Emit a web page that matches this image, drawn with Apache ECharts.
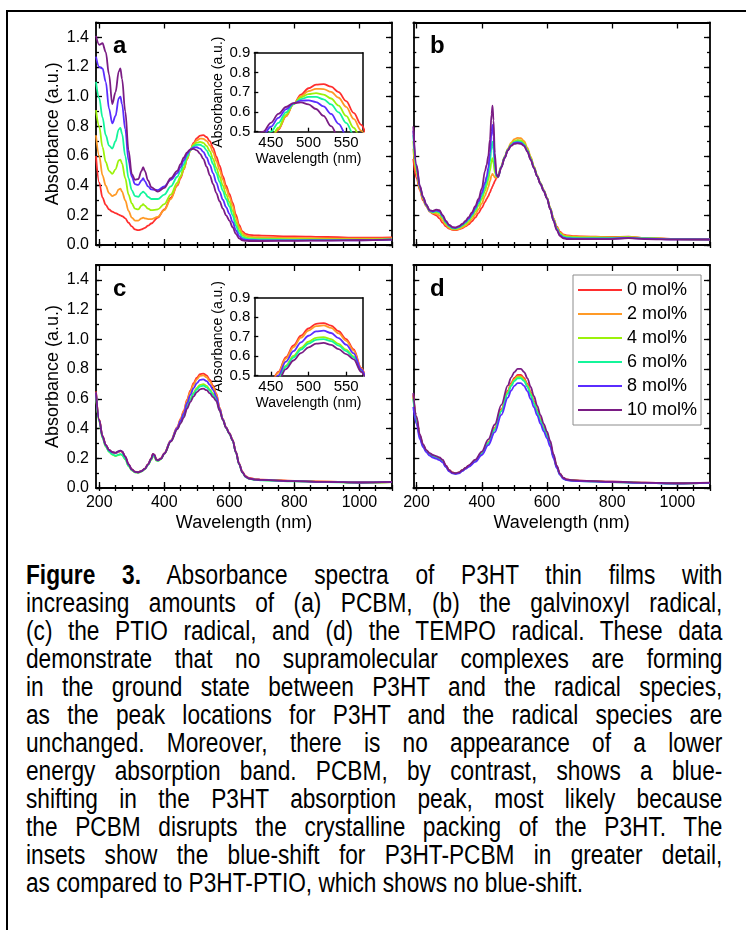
<!DOCTYPE html>
<html>
<head>
<meta charset="utf-8">
<title>Figure 3 - absorbance spectra</title>
<script src="https://cdn.jsdelivr.net/npm/echarts@6/dist/echarts.min.js"></script>
<style>
  html, body { margin: 0; padding: 0; background: #fff; }
  body { width: 746px; height: 930px; position: relative; overflow: hidden; }
  #frame { position: absolute; left: 6px; top: 10px; width: 780px; height: 960px; border: 2.5px solid #000; box-sizing: border-box; }
  #chart { position: absolute; left: 0; top: 0; width: 746px; height: 545px; }
  #caption { position: absolute; left: 26px; top: 561px; width: 696px; color: #000;
    font-family: "Liberation Sans", Arial, sans-serif; font-size: 27px; line-height: 28px; }
  #caption div { width: 829px; transform: scaleX(0.84); transform-origin: 0 0; text-align: justify; text-align-last: justify; white-space: normal; }
  #caption div.last { text-align-last: left; }
</style>
</head>
<body>
<div id="frame"></div>
<div id="chart"></div>
<div id="caption">
  <div><b>Figure 3.</b> Absorbance spectra of P3HT thin films with</div>
  <div>increasing amounts of (a) PCBM, (b) the galvinoxyl radical,</div>
  <div>(c) the PTIO radical, and (d) the TEMPO radical. These data</div>
  <div>demonstrate that no supramolecular complexes are forming</div>
  <div>in the ground state between P3HT and the radical species,</div>
  <div>as the peak locations for P3HT and the radical species are</div>
  <div>unchanged. Moreover, there is no appearance of a lower</div>
  <div>energy absorption band. PCBM, by contrast, shows a blue-</div>
  <div>shifting in the P3HT absorption peak, most likely because</div>
  <div>the PCBM disrupts the crystalline packing of the P3HT. The</div>
  <div>insets show the blue-shift for P3HT-PCBM in greater detail,</div>
  <div class="last">as compared to P3HT-PTIO, which shows no blue-shift.</div>
</div>
<script>
// legend names + colours (0 -> 10 mol%)
const seriesNames = ['0 mol%', '2 mol%', '4 mol%', '6 mol%', '8 mol%', '10 mol%'];
const seriesColors = ['#ff2e2e', '#ff9a26', '#9cf20a', '#14f59a', '#5a2cff', '#7a1c84'];

// tick values
const xMajorTicks = [200, 400, 600, 800, 1000];
const xMinorTicks = [200, 250, 300, 350, 400, 450, 500, 550, 600, 650, 700, 750, 800, 850, 900, 950, 1000, 1050, 1100];
const yMajorTicks = [0, 0.2, 0.4, 0.6, 0.8, 1.0, 1.2, 1.4];
const yMinorTicks = [0, 0.1, 0.2, 0.3, 0.4, 0.5, 0.6, 0.7, 0.8, 0.9, 1.0, 1.1, 1.2, 1.3, 1.4, 1.5];
const insetXTicks = [450, 500, 550];
const insetYTicks = [0.5, 0.6, 0.7, 0.8, 0.9];

// (a) PCBM
const wlA = [190, 200, 210, 220, 230, 240, 250, 260, 265, 270, 280, 290, 300, 310, 320, 330, 335, 340, 350, 360,
  380, 400, 420, 440, 450, 460, 470, 480, 490, 500, 510, 520, 530, 540, 550, 560, 570, 580, 590, 600,
  610, 620, 630, 640, 650, 660, 680, 700, 800, 900, 1000, 1100];
const a0 = [0.60, 0.42, 0.32, 0.27, 0.24, 0.225, 0.215, 0.205, 0.20, 0.195, 0.18, 0.15, 0.125, 0.105, 0.10, 0.105, 0.11, 0.115, 0.13, 0.145,
  0.185, 0.24, 0.32, 0.40, 0.45, 0.51, 0.578, 0.640, 0.688, 0.720, 0.738, 0.741, 0.728, 0.700, 0.655, 0.595, 0.535, 0.465, 0.40, 0.345,
  0.285, 0.205, 0.135, 0.092, 0.075, 0.068, 0.065, 0.063, 0.058, 0.054, 0.05, 0.052];
const a2 = [0.74, 0.60, 0.47, 0.40, 0.35, 0.33, 0.34, 0.375, 0.38, 0.36, 0.30, 0.23, 0.185, 0.165, 0.165, 0.18, 0.185, 0.18, 0.175, 0.175,
  0.19, 0.235, 0.31, 0.405, 0.458, 0.513, 0.578, 0.638, 0.680, 0.705, 0.717, 0.716, 0.702, 0.672, 0.626, 0.565, 0.505, 0.44, 0.38, 0.325,
  0.265, 0.185, 0.12, 0.08, 0.064, 0.057, 0.053, 0.052, 0.048, 0.045, 0.042, 0.045];
const a4 = [0.91, 0.80, 0.66, 0.56, 0.50, 0.48, 0.51, 0.57, 0.575, 0.55, 0.45, 0.34, 0.28, 0.245, 0.24, 0.265, 0.275, 0.265, 0.245, 0.235,
  0.24, 0.275, 0.34, 0.42, 0.465, 0.52, 0.585, 0.64, 0.674, 0.690, 0.695, 0.688, 0.668, 0.632, 0.58, 0.52, 0.46, 0.40, 0.34, 0.29,
  0.23, 0.155, 0.10, 0.066, 0.053, 0.047, 0.044, 0.043, 0.04, 0.038, 0.037, 0.04];
const a6 = [1.10, 0.99, 0.86, 0.74, 0.67, 0.65, 0.70, 0.78, 0.79, 0.75, 0.60, 0.45, 0.37, 0.33, 0.325, 0.35, 0.36, 0.35, 0.325, 0.31,
  0.31, 0.34, 0.395, 0.46, 0.50, 0.545, 0.598, 0.64, 0.665, 0.676, 0.676, 0.664, 0.638, 0.598, 0.545, 0.485, 0.425, 0.365, 0.31, 0.26,
  0.20, 0.13, 0.08, 0.053, 0.044, 0.04, 0.038, 0.037, 0.035, 0.034, 0.034, 0.038];
const a8 = [1.27, 1.20, 1.19, 1.10, 0.92, 0.82, 0.87, 0.99, 1.0, 0.95, 0.78, 0.57, 0.46, 0.41, 0.405, 0.435, 0.45, 0.43, 0.395, 0.375,
  0.37, 0.395, 0.44, 0.485, 0.525, 0.57, 0.613, 0.643, 0.657, 0.659, 0.65, 0.628, 0.59, 0.54, 0.483, 0.42, 0.36, 0.305, 0.255, 0.21,
  0.155, 0.10, 0.06, 0.041, 0.035, 0.033, 0.032, 0.031, 0.031, 0.031, 0.032, 0.036];
const a10 = [1.41, 1.35, 1.36, 1.30, 1.15, 0.95, 1.03, 1.17, 1.19, 1.12, 0.90, 0.64, 0.48, 0.44, 0.445, 0.50, 0.525, 0.50, 0.435, 0.39,
  0.36, 0.385, 0.45, 0.50, 0.545, 0.59, 0.625, 0.645, 0.648, 0.638, 0.615, 0.58, 0.528, 0.47, 0.41, 0.35, 0.295, 0.245, 0.20, 0.165,
  0.12, 0.075, 0.045, 0.032, 0.028, 0.027, 0.027, 0.027, 0.028, 0.03, 0.032, 0.036];

// (b) galvinoxyl
const wlB = [190, 200, 210, 220, 230, 240, 250, 260, 270, 280, 290, 300, 310, 320, 330, 340, 350, 360, 370, 380,
  390, 400, 410, 415, 420, 425, 430, 433, 436, 440, 445, 450, 460, 470, 480, 490, 500, 510, 520, 530,
  540, 550, 560, 570, 580, 590, 600, 610, 620, 630, 640, 650, 660, 680, 700, 800, 850, 900, 1000, 1100];
const b0 = [0.58, 0.45, 0.37, 0.30, 0.26, 0.225, 0.21, 0.20, 0.18, 0.15, 0.125, 0.11, 0.102, 0.10, 0.105, 0.113, 0.125, 0.14, 0.16, 0.185,
  0.215, 0.25, 0.29, 0.31, 0.33, 0.355, 0.38, 0.395, 0.41, 0.43, 0.45, 0.47, 0.53, 0.59, 0.64, 0.675, 0.695, 0.705, 0.703, 0.685,
  0.645, 0.585, 0.525, 0.465, 0.415, 0.37, 0.32, 0.25, 0.18, 0.125, 0.09, 0.072, 0.065, 0.06, 0.058, 0.054, 0.056, 0.048, 0.04, 0.038];
const b2 = [0.65, 0.48, 0.38, 0.31, 0.265, 0.23, 0.215, 0.21, 0.20, 0.165, 0.135, 0.115, 0.105, 0.103, 0.108, 0.118, 0.13, 0.15, 0.175, 0.205,
  0.24, 0.28, 0.33, 0.36, 0.39, 0.43, 0.47, 0.48, 0.47, 0.455, 0.455, 0.465, 0.53, 0.595, 0.65, 0.69, 0.713, 0.722, 0.72, 0.70,
  0.655, 0.595, 0.53, 0.47, 0.418, 0.37, 0.32, 0.25, 0.178, 0.12, 0.085, 0.068, 0.062, 0.058, 0.056, 0.052, 0.055, 0.047, 0.04, 0.038];
const b4 = [0.70, 0.50, 0.385, 0.315, 0.265, 0.228, 0.218, 0.222, 0.215, 0.18, 0.145, 0.122, 0.11, 0.108, 0.115, 0.127, 0.142, 0.163, 0.19, 0.225,
  0.265, 0.31, 0.365, 0.40, 0.44, 0.50, 0.565, 0.585, 0.55, 0.49, 0.46, 0.465, 0.53, 0.593, 0.645, 0.68, 0.70, 0.707, 0.705, 0.686,
  0.645, 0.588, 0.527, 0.468, 0.416, 0.368, 0.318, 0.248, 0.175, 0.115, 0.078, 0.062, 0.056, 0.053, 0.052, 0.05, 0.053, 0.046, 0.04, 0.038];
const b6 = [0.74, 0.52, 0.39, 0.32, 0.268, 0.23, 0.222, 0.228, 0.222, 0.19, 0.152, 0.127, 0.114, 0.112, 0.12, 0.133, 0.15, 0.172, 0.20, 0.238,
  0.28, 0.33, 0.39, 0.43, 0.48, 0.56, 0.665, 0.697, 0.64, 0.53, 0.465, 0.462, 0.528, 0.59, 0.642, 0.675, 0.693, 0.698, 0.695, 0.676,
  0.636, 0.58, 0.522, 0.465, 0.413, 0.366, 0.316, 0.245, 0.17, 0.11, 0.072, 0.056, 0.05, 0.048, 0.047, 0.046, 0.05, 0.044, 0.039, 0.038];
const b8 = [0.77, 0.53, 0.395, 0.322, 0.27, 0.232, 0.226, 0.233, 0.228, 0.196, 0.158, 0.132, 0.118, 0.116, 0.124, 0.138, 0.156, 0.18, 0.21, 0.25,
  0.295, 0.35, 0.42, 0.46, 0.52, 0.62, 0.76, 0.81, 0.73, 0.57, 0.47, 0.46, 0.525, 0.588, 0.64, 0.672, 0.688, 0.692, 0.689, 0.672,
  0.632, 0.577, 0.52, 0.463, 0.412, 0.365, 0.315, 0.243, 0.166, 0.105, 0.066, 0.05, 0.045, 0.043, 0.043, 0.043, 0.048, 0.042, 0.038, 0.037];
const b10 = [0.80, 0.54, 0.40, 0.325, 0.272, 0.235, 0.23, 0.238, 0.235, 0.202, 0.163, 0.136, 0.121, 0.118, 0.127, 0.142, 0.162, 0.188, 0.22, 0.262,
  0.31, 0.38, 0.50, 0.54, 0.60, 0.71, 0.88, 0.94, 0.84, 0.62, 0.48, 0.458, 0.522, 0.585, 0.637, 0.668, 0.682, 0.685, 0.682, 0.666,
  0.628, 0.574, 0.518, 0.462, 0.41, 0.363, 0.313, 0.24, 0.162, 0.10, 0.06, 0.045, 0.04, 0.039, 0.039, 0.04, 0.046, 0.04, 0.037, 0.037];

// (c) PTIO
const wlC = [190, 200, 210, 220, 230, 240, 250, 260, 265, 270, 280, 290, 300, 310, 320, 330, 340, 350, 360, 365,
  370, 375, 380, 390, 400, 420, 440, 450, 460, 470, 480, 490, 500, 510, 520, 530, 540, 550, 560, 570,
  580, 590, 600, 610, 620, 630, 640, 650, 660, 680, 700, 800, 900, 1000, 1100];
const c0 = [0.65, 0.46, 0.35, 0.29, 0.255, 0.24, 0.235, 0.245, 0.25, 0.245, 0.21, 0.16, 0.125, 0.11, 0.107, 0.115, 0.13, 0.16, 0.2, 0.23,
  0.222, 0.193, 0.188, 0.2, 0.235, 0.32, 0.41, 0.465, 0.52, 0.595, 0.655, 0.705, 0.742, 0.766, 0.77, 0.757, 0.728, 0.688, 0.635, 0.54,
  0.465, 0.41, 0.37, 0.325, 0.245, 0.165, 0.11, 0.08, 0.068, 0.06, 0.056, 0.048, 0.043, 0.038, 0.04];
const c2 = [0.645, 0.458, 0.348, 0.288, 0.254, 0.238, 0.233, 0.243, 0.248, 0.243, 0.208, 0.158, 0.124, 0.109, 0.106, 0.114, 0.129, 0.158, 0.198, 0.228,
  0.221, 0.192, 0.187, 0.198, 0.233, 0.318, 0.408, 0.461, 0.515, 0.588, 0.646, 0.695, 0.731, 0.754, 0.758, 0.745, 0.717, 0.679, 0.629, 0.538,
  0.463, 0.408, 0.368, 0.323, 0.243, 0.163, 0.108, 0.078, 0.066, 0.058, 0.055, 0.047, 0.042, 0.037, 0.04];
const c4 = [0.62, 0.445, 0.338, 0.278, 0.243, 0.225, 0.215, 0.222, 0.226, 0.222, 0.192, 0.148, 0.118, 0.105, 0.103, 0.111, 0.126, 0.155, 0.19, 0.215,
  0.21, 0.185, 0.182, 0.195, 0.23, 0.313, 0.399, 0.443, 0.488, 0.552, 0.601, 0.642, 0.674, 0.694, 0.698, 0.687, 0.663, 0.634, 0.599, 0.526,
  0.46, 0.405, 0.365, 0.32, 0.24, 0.16, 0.105, 0.075, 0.063, 0.056, 0.053, 0.046, 0.041, 0.036, 0.039];
const c6 = [0.63, 0.45, 0.34, 0.28, 0.245, 0.226, 0.217, 0.224, 0.228, 0.224, 0.194, 0.15, 0.12, 0.106, 0.104, 0.112, 0.127, 0.156, 0.192, 0.218,
  0.212, 0.187, 0.183, 0.196, 0.231, 0.314, 0.398, 0.44, 0.483, 0.546, 0.593, 0.634, 0.664, 0.684, 0.688, 0.677, 0.654, 0.626, 0.594, 0.524,
  0.459, 0.404, 0.364, 0.319, 0.239, 0.159, 0.104, 0.074, 0.062, 0.055, 0.052, 0.045, 0.04, 0.036, 0.039];
const c8 = [0.64, 0.455, 0.347, 0.288, 0.254, 0.24, 0.236, 0.246, 0.251, 0.246, 0.21, 0.159, 0.124, 0.108, 0.105, 0.113, 0.128, 0.158, 0.198, 0.228,
  0.221, 0.191, 0.186, 0.197, 0.232, 0.316, 0.404, 0.453, 0.502, 0.572, 0.626, 0.671, 0.705, 0.727, 0.731, 0.719, 0.693, 0.659, 0.615, 0.532,
  0.462, 0.407, 0.367, 0.322, 0.242, 0.162, 0.107, 0.077, 0.065, 0.057, 0.054, 0.046, 0.041, 0.037, 0.041];
const c10 = [0.645, 0.458, 0.349, 0.29, 0.256, 0.242, 0.238, 0.248, 0.252, 0.247, 0.211, 0.16, 0.125, 0.109, 0.106, 0.114, 0.129, 0.159, 0.199, 0.229,
  0.222, 0.192, 0.187, 0.197, 0.231, 0.312, 0.395, 0.434, 0.474, 0.534, 0.578, 0.616, 0.645, 0.664, 0.668, 0.658, 0.636, 0.611, 0.584, 0.52,
  0.457, 0.405, 0.366, 0.321, 0.241, 0.161, 0.106, 0.076, 0.064, 0.057, 0.054, 0.046, 0.041, 0.037, 0.041];

// (d) TEMPO
const wlD = [190, 200, 210, 220, 230, 240, 250, 260, 270, 280, 290, 300, 310, 320, 330, 340, 350, 360, 380, 400,
  420, 440, 460, 480, 490, 500, 510, 520, 530, 540, 550, 560, 570, 580, 590, 600, 610, 620,
  630, 640, 650, 660, 680, 700, 800, 900, 1000, 1100];
const d0 = [0.63, 0.47, 0.35, 0.29, 0.25, 0.23, 0.218, 0.21, 0.20, 0.185, 0.15, 0.12, 0.105, 0.10, 0.105, 0.12, 0.135, 0.15, 0.185, 0.235,
  0.31, 0.405, 0.53, 0.655, 0.705, 0.74, 0.76, 0.76, 0.74, 0.70, 0.645, 0.585, 0.525, 0.465, 0.41, 0.36, 0.30, 0.215,
  0.145, 0.095, 0.068, 0.058, 0.052, 0.05, 0.042, 0.036, 0.032, 0.034];
const d2 = [0.62, 0.465, 0.35, 0.288, 0.25, 0.228, 0.216, 0.208, 0.198, 0.182, 0.148, 0.118, 0.104, 0.10, 0.104, 0.118, 0.133, 0.148, 0.183, 0.232,
  0.306, 0.40, 0.524, 0.647, 0.697, 0.731, 0.751, 0.751, 0.731, 0.692, 0.637, 0.578, 0.519, 0.459, 0.405, 0.356, 0.296, 0.212,
  0.142, 0.093, 0.066, 0.056, 0.05, 0.048, 0.041, 0.035, 0.031, 0.034];
const d4 = [0.61, 0.46, 0.345, 0.285, 0.248, 0.226, 0.213, 0.205, 0.195, 0.178, 0.145, 0.116, 0.102, 0.098, 0.103, 0.117, 0.132, 0.147, 0.182, 0.231,
  0.304, 0.397, 0.519, 0.642, 0.691, 0.725, 0.745, 0.745, 0.725, 0.686, 0.632, 0.573, 0.515, 0.456, 0.402, 0.353, 0.294, 0.211,
  0.141, 0.092, 0.065, 0.055, 0.05, 0.048, 0.04, 0.035, 0.031, 0.034];
const d6 = [0.60, 0.455, 0.342, 0.283, 0.246, 0.224, 0.211, 0.203, 0.193, 0.176, 0.143, 0.115, 0.101, 0.097, 0.102, 0.116, 0.131, 0.146, 0.18, 0.229,
  0.301, 0.393, 0.515, 0.636, 0.685, 0.719, 0.738, 0.738, 0.719, 0.68, 0.626, 0.568, 0.51, 0.452, 0.398, 0.35, 0.291, 0.209,
  0.14, 0.09, 0.064, 0.054, 0.049, 0.047, 0.04, 0.034, 0.03, 0.034];
const d8 = [0.545, 0.43, 0.33, 0.275, 0.24, 0.218, 0.205, 0.197, 0.188, 0.172, 0.14, 0.112, 0.098, 0.094, 0.099, 0.113, 0.128, 0.143, 0.176, 0.222,
  0.288, 0.376, 0.492, 0.608, 0.655, 0.687, 0.706, 0.706, 0.687, 0.65, 0.599, 0.543, 0.488, 0.432, 0.381, 0.334, 0.279, 0.20,
  0.135, 0.088, 0.062, 0.053, 0.048, 0.046, 0.039, 0.034, 0.03, 0.035];
const d10 = [0.64, 0.48, 0.36, 0.295, 0.255, 0.235, 0.222, 0.215, 0.205, 0.19, 0.152, 0.12, 0.104, 0.10, 0.105, 0.12, 0.135, 0.152, 0.19, 0.245,
  0.327, 0.427, 0.559, 0.69, 0.743, 0.78, 0.801, 0.801, 0.78, 0.738, 0.68, 0.617, 0.553, 0.49, 0.432, 0.379, 0.316, 0.227,
  0.15, 0.097, 0.069, 0.058, 0.052, 0.05, 0.042, 0.036, 0.032, 0.036];

const FONT = '"Liberation Sans", Arial, sans-serif';
const chart = echarts.init(document.getElementById('chart'), null, { renderer: 'canvas' });

const grids = [];
const xAxes = [];
const yAxes = [];
const series = [];

function tickStyle() {
  return { color: '#000', width: 1.3 };
}

// one framed plot: ticks inside on all four sides, major+minor done as two stacked axes
function addGrid(rect, o) {
  const g = grids.length;
  grids.push({ left: rect[0], top: rect[1], width: rect[2], height: rect[3] });
  const xi = xAxes.length;
  ['bottom', 'top'].forEach(function (pos) {
    const main = pos === 'bottom';
    xAxes.push({
      gridIndex: g, type: 'value', position: pos, min: o.xMin, max: o.xMax,
      name: main && o.xName ? o.xName : '',
      nameLocation: 'middle', nameGap: o.xNameGap,
      nameTextStyle: { fontSize: o.nameSize, color: '#000', fontFamily: FONT },
      axisLine: { show: true, onZero: false, lineStyle: { color: '#000', width: o.lineW } },
      axisTick: { show: o.topTicks || main, inside: true, length: o.major, customValues: o.xMajor, lineStyle: tickStyle() },
      axisLabel: { show: main && o.xLabels, customValues: o.xMajor, margin: o.xMargin, fontSize: o.labelSize, color: '#000', fontFamily: FONT,
        formatter: function (v) { return String(v); } },
      splitLine: { show: false }
    });
    if (o.xMinor && (o.topTicks || main)) {
      xAxes.push({
        gridIndex: g, type: 'value', position: pos, min: o.xMin, max: o.xMax,
        axisLine: { show: false },
        axisTick: { show: true, inside: true, length: o.minor, customValues: o.xMinor, lineStyle: tickStyle() },
        axisLabel: { show: false }, splitLine: { show: false }
      });
    }
  });
  const yi = yAxes.length;
  ['left', 'right'].forEach(function (pos) {
    const main = pos === 'left';
    yAxes.push({
      gridIndex: g, type: 'value', position: pos, min: o.yMin, max: o.yMax,
      name: main && o.yName ? o.yName : '',
      nameLocation: 'middle', nameGap: o.yNameGap,
      nameTextStyle: { fontSize: o.nameSize, color: '#000', fontFamily: FONT },
      axisLine: { show: true, onZero: false, lineStyle: { color: '#000', width: o.lineW } },
      axisTick: { show: o.topTicks || main, inside: true, length: o.major, customValues: o.yMajor, lineStyle: tickStyle() },
      axisLabel: { show: main && o.yLabels, customValues: o.yMajor, margin: o.yMargin, fontSize: o.labelSize, color: '#000', fontFamily: FONT,
        formatter: function (v) { return v.toFixed(1); } },
      splitLine: { show: false }
    });
    if (o.yMinor && (o.topTicks || main)) {
      yAxes.push({
        gridIndex: g, type: 'value', position: pos, min: o.yMin, max: o.yMax,
        axisLine: { show: false },
        axisTick: { show: true, inside: true, length: o.minor, customValues: o.yMinor, lineStyle: tickStyle() },
        axisLabel: { show: false }, splitLine: { show: false }
      });
    }
  });
  return { x: xi, y: yi };
}

function mainOpts(showX, showY) {
  return {
    xMin: 190, xMax: 1100, yMin: 0, yMax: 1.5,
    xMajor: xMajorTicks, xMinor: xMinorTicks, yMajor: yMajorTicks, yMinor: yMinorTicks,
    major: 6, minor: 3, topTicks: true, lineW: 1.8,
    xLabels: showX, yLabels: showY,
    xName: showX ? 'Wavelength (nm)' : '', yName: showY ? 'Absorbance (a.u.)' : '',
    xNameGap: 26, yNameGap: 34, xMargin: 7, yMargin: 7,
    labelSize: 16, nameSize: 18
  };
}

function insetOpts() {
  return {
    xMin: 428, xMax: 572, yMin: 0.5, yMax: 0.9,
    xMajor: insetXTicks, yMajor: insetYTicks,
    major: 4, minor: 2, topTicks: false, lineW: 1.5,
    xLabels: true, yLabels: true,
    xName: 'Wavelength (nm)', yName: 'Absorbance (a.u.)',
    xNameGap: 20, yNameGap: 25, xMargin: 4, yMargin: 4,
    labelSize: 15, nameSize: 14
  };
}

const gA = addGrid([96, 22.5, 296, 222.5], mainOpts(false, true));
const gB = addGrid([413.3, 22.5, 296.7, 222.5], mainOpts(false, false));
const gC = addGrid([96, 265, 296, 223], mainOpts(true, true));
const gD = addGrid([413.3, 265, 296.7, 223], mainOpts(true, false));
const gAi = addGrid([254.3, 52.7, 108.4, 79], insetOpts());
const gCi = addGrid([254.3, 297.7, 108.4, 78], insetOpts());

function addSeries(axes, wl, sets) {
  sets.forEach(function (vals, i) {
    series.push({
      name: seriesNames[i], type: 'line',
      xAxisIndex: axes.x, yAxisIndex: axes.y,
      data: wl.map(function (w, k) { return [w, vals[k]]; }),
      symbol: 'none', smooth: 0.35, smoothMonotone: 'x', clip: true,
      lineStyle: { color: seriesColors[i], width: 1.8 },
      itemStyle: { color: seriesColors[i] }
    });
  });
}

addSeries(gA, wlA, [a0, a2, a4, a6, a8, a10]);
addSeries(gB, wlB, [b0, b2, b4, b6, b8, b10]);
addSeries(gC, wlC, [c0, c2, c4, c6, c8, c10]);
addSeries(gD, wlD, [d0, d2, d4, d6, d8, d10]);
addSeries(gAi, wlA, [a0, a2, a4, a6, a8, a10]);
addSeries(gCi, wlC, [c0, c2, c4, c6, c8, c10]);

const panelLetters = [['a', 113, 34], ['b', 430, 34], ['c', 113, 277], ['d', 430, 277]];

chart.setOption({
  animation: false,
  backgroundColor: 'transparent',
  grid: grids,
  xAxis: xAxes,
  yAxis: yAxes,
  series: series,
  legend: {
    data: seriesNames,
    orient: 'vertical', left: 573, top: 275,
    backgroundColor: '#fff', borderColor: '#8c8c8c', borderWidth: 1,
    padding: [6, 4, 6, 4], itemWidth: 44, itemHeight: 14, itemGap: 6, itemTextGap: 6,
    itemStyle: { opacity: 0 },
    lineStyle: { width: 2 },
    textStyle: { fontSize: 18, color: '#000', fontFamily: FONT },
    selectedMode: false
  },
  graphic: panelLetters.map(function (p) {
    return { type: 'text', left: p[1], top: p[2], style: { text: p[0], font: 'bold 24px "Liberation Sans", Arial, sans-serif', fill: '#000' } };
  })
});
</script>
</body>
</html>
